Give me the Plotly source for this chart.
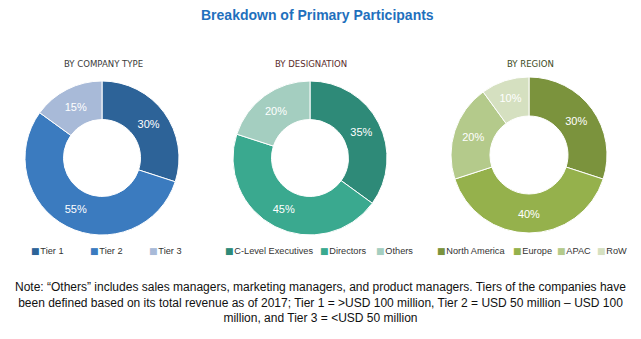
import plotly.graph_objects as go

W, H = 641, 339

# ---- data ----
title_text = "Breakdown of Primary Participants"
company_labels = ["Tier 1", "Tier 2", "Tier 3"]
company_values = [30, 55, 15]
company_colors = ["#2d6398", "#3b7bbf", "#a8bad8"]

designation_labels = ["C-Level Executives", "Directors", "Others"]
designation_values = [35, 45, 20]
designation_colors = ["#2e8a78", "#3aa98f", "#a4cec0"]

region_labels = ["North America", "Europe", "APAC", "RoW"]
region_values = [30, 40, 20, 10]
region_colors = ["#7b933d", "#95b14c", "#b4ca8b", "#d5e0c0"]

panel_titles = ["BY COMPANY TYPE", "BY DESIGNATION", "BY REGION"]
panel_title_colors = ["#3a3a3a", "#5a2b2b", "#3d4a22"]

note_text = ("Note: \u201cOthers\u201d includes sales managers, marketing managers, and product managers. "
             "Tiers of the companies have<br>been defined based on its total revenue as of 2017; "
             "Tier 1 = >USD 100 million, Tier 2 = USD 50 million \u2013 USD 100<br>"
             "million, and Tier 3 = <USD 50 million")

# ---- layout helpers (pixels -> paper) ----
def px(x):
    return x / W

def py(y):
    return 1 - y / H

# donut geometry: (center x, center y, radius) in pixels
geoms = [(102, 158, 77), (310, 158, 77), (529, 155, 78)]
legend_pos = [
    [30, 89, 148],
    [224, 319, 375],
    [436, 512, 556, 596],
]
legend_y = 251

fig = go.Figure()

series = [
    (company_labels, company_values, company_colors),
    (designation_labels, designation_values, designation_colors),
    (region_labels, region_values, region_colors),
]

annotations = []
for i, ((labels, values, colors), (cx, cy, r)) in enumerate(zip(series, geoms)):
    fig.add_trace(go.Pie(
        labels=labels,
        values=values,
        hole=0.5,
        sort=False,
        direction="clockwise",
        rotation=0,
        marker=dict(colors=colors, line=dict(color="white", width=1)),
        textinfo="percent",
        texttemplate="%{value}%",
        textposition="inside",
        insidetextorientation="horizontal",
        textfont=dict(color="white", size=11, family="Liberation Sans, Arial, sans-serif"),
        domain=dict(x=[px(cx - r), px(cx + r)], y=[py(cy + r), py(cy - r)]),
        showlegend=False,
        hoverinfo="label+percent",
    ))
    # panel title
    annotations.append(dict(
        text=panel_titles[i], x=px(cx + 1), y=py(63), xref="paper", yref="paper",
        showarrow=False, xanchor="center", yanchor="middle",
        font=dict(size=9.5, color=panel_title_colors[i],
                  family="Liberation Sans Narrow, Arial Narrow, DejaVu Sans Condensed, sans-serif"),
    ))
    # legend entries
    for lab, col, lx in zip(labels, colors, legend_pos[i]):
        annotations.append(dict(
            text=(f'<span style="color:{col}; font-family:DejaVu Sans; font-size:9px">\u25A0</span>'
                  f'<span style="font-size:3px"> </span>{lab}'),
            x=px(lx - 1), y=py(legend_y), xref="paper", yref="paper",
            showarrow=False, xanchor="left", yanchor="middle",
            font=dict(size=9.2, color="#333333", family="Liberation Sans, Arial, sans-serif"),
        ))

annotations.append(dict(
    text=f"<b>{title_text}</b>", x=px(317), y=py(15), xref="paper", yref="paper",
    showarrow=False, xanchor="center", yanchor="middle",
    font=dict(size=14, color="#1f70bd", family="Liberation Sans, Arial, sans-serif"),
))
annotations.append(dict(
    text=note_text, x=px(320), y=py(302), xref="paper", yref="paper",
    showarrow=False, xanchor="center", yanchor="middle", align="center",
    font=dict(size=12, color="#111111", family="Liberation Sans, Arial, sans-serif"),
))

fig.update_layout(
    width=W, height=H,
    margin=dict(l=0, r=0, t=0, b=0),
    paper_bgcolor="white", plot_bgcolor="white",
    annotations=annotations,
    showlegend=False,
)

fig.write_html("out.html", config={"displayModeBar": False})
